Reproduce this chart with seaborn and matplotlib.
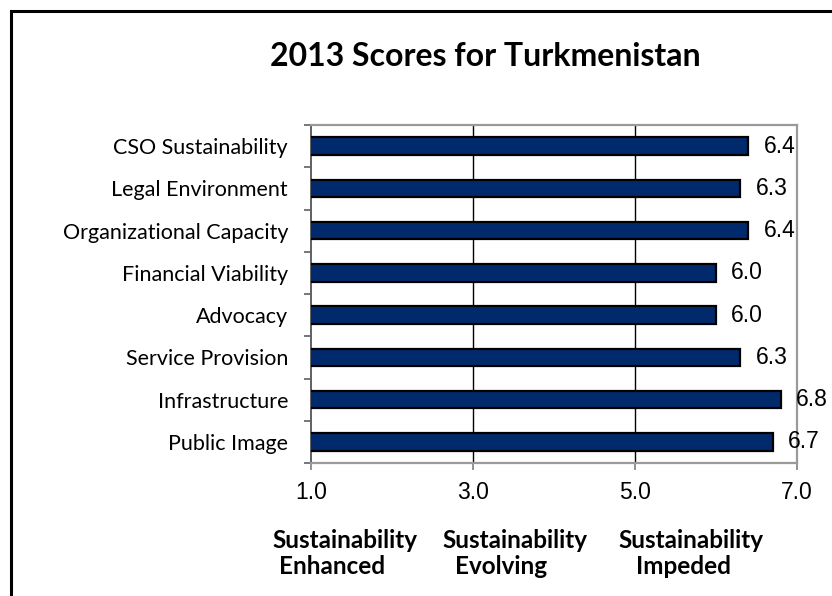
import matplotlib
matplotlib.use("Agg")
import matplotlib.pyplot as plt
from matplotlib.patches import Rectangle
from matplotlib.ticker import FixedLocator
import seaborn as sns
import pandas as pd

# Dimension scores, top to bottom
categories = [
    "CSO Sustainability",
    "Legal Environment",
    "Organizational Capacity",
    "Financial Viability",
    "Advocacy",
    "Service Provision",
    "Infrastructure",
    "Public Image",
]
scores = [6.4, 6.3, 6.4, 6.0, 6.0, 6.3, 6.8, 6.7]

x_ticks = [1.0, 3.0, 5.0, 7.0]
scale_labels = [
    ("Sustainability", "Enhanced"),
    ("Sustainability", "Evolving"),
    ("Sustainability", "Impeded"),
]
title = "2013 Scores for Turkmenistan"

df = pd.DataFrame({"dimension": categories, "score": scores})

sns.set_theme(style="white")
plt.rcParams["font.family"] = ["Lato", "DejaVu Sans"]
plt.rcParams["text.color"] = "black"
plt.rcParams["xtick.color"] = "black"
plt.rcParams["ytick.color"] = "black"

W, H = 832, 596
fig = plt.figure(figsize=(W / 100, H / 100), dpi=100)
ax = fig.add_axes([311 / W, 1 - 463 / H, (797 - 311) / W, (463 - 125) / H])

bar_color = "#002a6c"
sns.barplot(data=df, x="score", y="dimension", orient="h", color=bar_color,
            width=0.41, edgecolor="black", linewidth=1.6, saturation=1,
            ax=ax, zorder=3)

ax.set_xlim(1, 7)
ax.set_ylim(len(categories) - 0.5, -0.5)
ax.set_xlabel("")
ax.set_ylabel("")

# vertical reference lines between the end ticks
for xv in x_ticks[1:-1]:
    ax.axvline(xv, color="black", lw=1.0, zorder=1)

ax.set_xticks(x_ticks)
ax.set_xticklabels([f"{v:.1f}" for v in x_ticks], fontfamily="Liberation Sans",
                   fontsize=16.5)
ax.tick_params(axis="x", which="major", direction="out", length=5, width=1.2,
               color="#808080", labelcolor="black", pad=8, bottom=True)

ax.set_yticks(range(len(categories)))
ax.set_yticklabels(categories, fontsize=15.5)
ax.tick_params(axis="y", which="major", length=0, pad=16.5, labelcolor="black")
ax.yaxis.set_minor_locator(FixedLocator([i - 0.5 for i in range(len(categories) + 1)]))
ax.tick_params(axis="y", which="minor", direction="out", length=5, width=1.2,
               color="#606060", left=True)

for side in ["top", "right", "bottom"]:
    ax.spines[side].set_color("#9a9a9a")
    ax.spines[side].set_linewidth(1.6)
ax.spines["left"].set_color("#606060")
ax.spines["left"].set_linewidth(1.4)

for container in ax.containers:
    ax.bar_label(container, fmt="%.1f", padding=11, fontsize=16.5,
                 fontfamily="Liberation Sans", color="black")

fig.text(485 / W, 1 - 57 / H, title, ha="center", va="center",
         fontsize=23, fontweight="bold", color="black")

# scale descriptions under the axis
line1_x = [272, 442, 618]
line2_x = [279, 455, 636]
for (l1, l2), x1, x2 in zip(scale_labels, line1_x, line2_x):
    fig.text(x1 / W, 1 - 540 / H, l1, ha="left", va="center",
             fontsize=17.5, fontweight="bold", color="black")
    fig.text(x2 / W, 1 - 567 / H, l2, ha="left", va="center",
             fontsize=17.5, fontweight="bold", color="black")

# outer frame running off the right and bottom edges
fig.patches.append(Rectangle((11 / W, -0.05), 1.1, 1 - 11.5 / H + 0.05,
                             transform=fig.transFigure, fill=False,
                             edgecolor="black", linewidth=2.2))

fig.savefig("out.png", dpi=100)
